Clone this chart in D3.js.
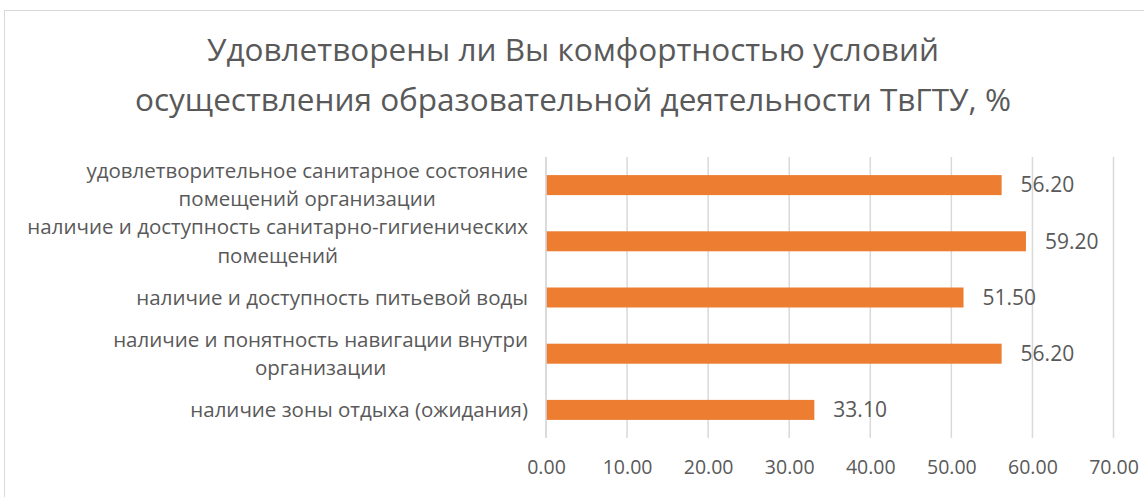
<!DOCTYPE html>
<html><head><meta charset="utf-8">
<script src="https://cdn.jsdelivr.net/npm/d3@7"></script>
<style>html,body{margin:0;padding:0;background:#fff;}svg{display:block;}</style>
</head><body>
<svg id="chart" width="1144" height="497"></svg>
<script>
const titleLines = ["Удовлетворены ли Вы комфортностью условий", "осуществления образовательной деятельности ТвГТУ, %"];
const categories = [
  ["удовлетворительное санитарное состояние", "помещений организации"],
  ["наличие и доступность санитарно-гигиенических", "помещений"],
  ["наличие и доступность питьевой воды"],
  ["наличие и понятность навигации внутри", "организации"],
  ["наличие зоны отдыха (ожидания)"]
];
const values = [56.2, 59.2, 51.5, 56.2, 33.1];
const xTicks = [0, 10, 20, 30, 40, 50, 60, 70];

const svg = d3.select("#chart");
const font = "'Open Sans', 'Noto Sans', sans-serif";
const textColor = "#595959";

// chart frame
svg.append("rect").attr("x", 4.5).attr("y", 10.5).attr("width", 1160).attr("height", 500)
  .attr("fill", "none").attr("stroke", "#d9d9d9").attr("stroke-width", 1);

const m = {left: 546, right: 1113.5, top: 157, bottom: 438};
const x = d3.scaleLinear().domain([0, 70]).range([m.left, m.right]);
const y = d3.scaleBand().domain(d3.range(categories.length)).range([m.top, m.bottom]).paddingInner(0.644).paddingOuter(0.322);

// title
svg.append("text").attr("x", 573).attr("text-anchor", "middle").attr("font-family", font)
  .attr("font-size", 31.5).attr("fill", textColor)
  .selectAll("tspan").data(titleLines).join("tspan")
  .attr("x", 573).attr("y", (d, i) => 61 + i * 50).text(d => d);

// gridlines
svg.append("g").selectAll("line").data(xTicks).join("line")
  .attr("x1", d => x(d)).attr("x2", d => x(d)).attr("y1", m.top).attr("y2", m.bottom)
  .attr("stroke", "#d9d9d9").attr("stroke-width", 1.5);

// x axis labels
const xAxis = d3.axisBottom(x).tickValues(xTicks).tickFormat(d3.format(".2f")).tickSize(0).tickPadding(0);
const gx = svg.append("g").attr("transform", `translate(0,${m.bottom})`).call(xAxis);
gx.select(".domain").remove();
gx.selectAll("text").attr("font-family", font).attr("font-size", 19.5).attr("fill", textColor)
  .attr("dy", null).attr("y", 36);

// bars
svg.append("g").selectAll("rect").data(values).join("rect")
  .attr("x", x(0)).attr("y", (d, i) => y(i)).attr("width", d => x(d) - x(0)).attr("height", y.bandwidth())
  .attr("fill", "#ED7D31");

// vertical axis line
svg.append("line").attr("x1", x(0)).attr("x2", x(0)).attr("y1", m.top).attr("y2", m.bottom)
  .attr("stroke", "#d9d9d9").attr("stroke-width", 1.5);

// value labels
svg.append("g").selectAll("text").data(values).join("text")
  .attr("x", d => x(d) + 19).attr("y", (d, i) => y(i) + y.bandwidth() / 2).attr("dy", "0.35em")
  .attr("font-family", font).attr("font-size", 21).attr("fill", textColor)
  .text(d => d3.format(".2f")(d));

// category labels (block right-aligned, lines centered)
const lineH = 28.3;
const labelSize = 20.5;
const lg = svg.append("g");
categories.forEach((lines, i) => {
  const cy = y(i) + y.bandwidth() / 2;
  const g = lg.append("g");
  const t = g.selectAll("text").data(lines).join("text")
    .attr("font-family", font).attr("font-size", labelSize).attr("fill", textColor)
    .attr("text-anchor", "middle")
    .attr("y", (d, j) => cy + (j - (lines.length - 1) / 2) * lineH).attr("dy", "0.35em")
    .text(d => d);
  let maxW = 0;
  t.each(function() { maxW = Math.max(maxW, this.getComputedTextLength()); });
  t.attr("x", 528 - maxW / 2);
});
</script>
</body></html>
